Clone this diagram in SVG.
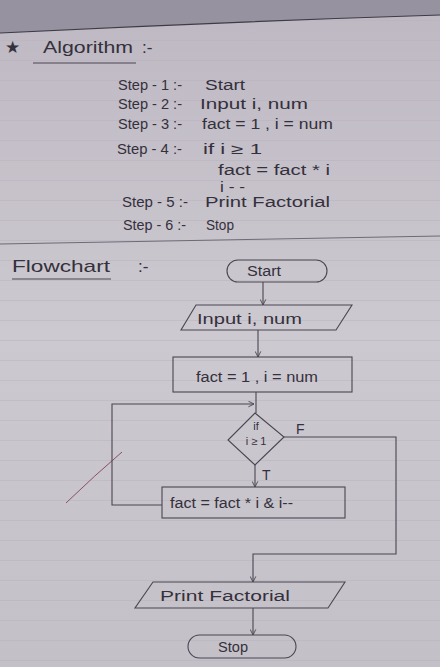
<svg xmlns="http://www.w3.org/2000/svg" width="440" height="667" viewBox="0 0 440 667">
<defs>
<linearGradient id="paper" x1="0" y1="0" x2="0" y2="1">
<stop offset="0" stop-color="#bdb8c2"/>
<stop offset="0.5" stop-color="#cdc9d0"/>
<stop offset="1" stop-color="#c4c0c8"/>
</linearGradient>
<marker id="arr" viewBox="0 0 10 10" refX="9" refY="5" markerWidth="7" markerHeight="7" orient="auto-start-reverse" markerUnits="userSpaceOnUse">
<path d="M1,1 L9,5 L1,9" fill="none" stroke="#4a4652" stroke-width="1.3"/>
</marker>
<pattern id="rule" width="440" height="20" patternUnits="userSpaceOnUse" y="0">
<line x1="0" y1="0.5" x2="440" y2="0.5" stroke="#b6b1bb" stroke-width="0.8"/>
</pattern>
</defs>
<style>
.t{font-family:"Liberation Sans","DejaVu Sans",sans-serif;fill:#34303c;font-size:14px}
.h{font-size:17px}
.d{font-size:11px}
.s{fill:none;stroke:#4a4652;stroke-width:1.1}
.c{fill:none;stroke:#4a4652;stroke-width:1.1}
</style>
<rect width="440" height="667" fill="url(#paper)"/>
<rect y="0" width="440" height="667" fill="url(#rule)" opacity="0.6"/>
<path d="M0,0 H440 V15 Q220,22 0,33 Z" fill="#97929f"/>
<path d="M0,33 Q220,22 440,15" fill="none" stroke="#3e3a46" stroke-width="1.2"/>
<path d="M0,244 Q220,240 440,236" fill="none" stroke="#6e6a76" stroke-width="1"/>
<path d="M66,503 Q95,475 122,452" fill="none" stroke="#8a5060" stroke-width="1"/>

<g id="algorithm">
<text class="t h" x="5" y="53">★</text>
<text class="t h" x="43" y="53" textLength="90" lengthAdjust="spacingAndGlyphs">Algorithm</text>
<text class="t h" x="142" y="53">:-</text>
<line x1="33" y1="63" x2="136" y2="63" class="s"/>
<text class="t" x="118" y="90" textLength="64" lengthAdjust="spacingAndGlyphs">Step - 1 :-</text><text class="t" x="205" y="90" textLength="40" lengthAdjust="spacingAndGlyphs">Start</text>
<text class="t" x="118" y="109" textLength="64" lengthAdjust="spacingAndGlyphs">Step - 2 :-</text><text class="t" x="200" y="109" textLength="108" lengthAdjust="spacingAndGlyphs">Input  i, num</text>
<text class="t" x="118" y="129" textLength="64" lengthAdjust="spacingAndGlyphs">Step - 3 :-</text><text class="t" x="202" y="129" textLength="131" lengthAdjust="spacingAndGlyphs">fact = 1 , i = num</text>
<text class="t" x="117" y="154" textLength="65" lengthAdjust="spacingAndGlyphs">Step - 4 :-</text><text class="t" x="203" y="154" textLength="59" lengthAdjust="spacingAndGlyphs">if  i ≥ 1</text>
<text class="t" x="218" y="175" textLength="112" lengthAdjust="spacingAndGlyphs">fact = fact * i</text>
<text class="t" x="220" y="192" textLength="25" lengthAdjust="spacingAndGlyphs">i - -</text>
<text class="t" x="122" y="207" textLength="66" lengthAdjust="spacingAndGlyphs">Step - 5 :-</text><text class="t" x="205" y="207" textLength="125" lengthAdjust="spacingAndGlyphs">Print  Factorial</text>
<text class="t" x="123" y="230" textLength="63" lengthAdjust="spacingAndGlyphs">Step - 6 :-</text><text class="t" x="206" y="230" textLength="28" lengthAdjust="spacingAndGlyphs">Stop</text>
</g>

<g id="flowchart-title">
<text class="t h" x="12" y="272" textLength="98" lengthAdjust="spacingAndGlyphs">Flowchart</text>
<text class="t h" x="138" y="272">:-</text>
<line x1="12" y1="279" x2="111" y2="279" class="s"/>
</g>

<g id="connectors">
<line x1="263" y1="282" x2="263" y2="305" class="c" marker-end="url(#arr)"/>
<line x1="258" y1="330" x2="258" y2="357" class="c" marker-end="url(#arr)"/>
<line x1="256" y1="392" x2="256" y2="413" class="c"/>
<polyline points="162,505 112,505 112,404 254,404" class="c" marker-end="url(#arr)"/>
<line x1="255" y1="465" x2="255" y2="487" class="c" marker-end="url(#arr)"/>
<polyline points="284,437 396,437 396,554 253,554 253,582" class="c" marker-end="url(#arr)"/>
<line x1="253" y1="608" x2="253" y2="635" class="c" marker-end="url(#arr)"/>
<text class="t" x="296" y="434">F</text>
<text class="t" x="262" y="480">T</text>
</g>

<g id="start">
<rect x="227" y="260" width="100" height="22" rx="11" class="s"/>
<text class="t" x="247" y="276" textLength="34" lengthAdjust="spacingAndGlyphs">Start</text>
</g>
<g id="input">
<polygon points="196,305 352,305 336,330 181,330" class="s"/>
<text class="t" x="197" y="324" textLength="105" lengthAdjust="spacingAndGlyphs">Input  i, num</text>
</g>
<g id="init">
<rect x="173" y="357" width="179" height="35" class="s"/>
<text class="t" x="196" y="382" textLength="122" lengthAdjust="spacingAndGlyphs">fact = 1 ,  i = num</text>
</g>
<g id="decision">
<polygon points="255,413 284,437 255,465 228,440" class="s"/>
<text class="t d" x="256" y="430" text-anchor="middle">if</text>
<text class="t d" x="256" y="445" text-anchor="middle">i ≥ 1</text>
</g>
<g id="update">
<rect x="162" y="487" width="183" height="31" class="s"/>
<text class="t" x="170" y="508" textLength="123" lengthAdjust="spacingAndGlyphs">fact = fact * i  &amp; i--</text>
</g>
<g id="print">
<polygon points="153,582 345,582 328,608 135,608" class="s"/>
<text class="t" x="160" y="601" textLength="130" lengthAdjust="spacingAndGlyphs">Print  Factorial</text>
</g>
<g id="stop">
<rect x="188" y="635" width="108" height="23" rx="11.5" class="s"/>
<text class="t" x="218" y="652" textLength="30" lengthAdjust="spacingAndGlyphs">Stop</text>
</g>
</svg>
